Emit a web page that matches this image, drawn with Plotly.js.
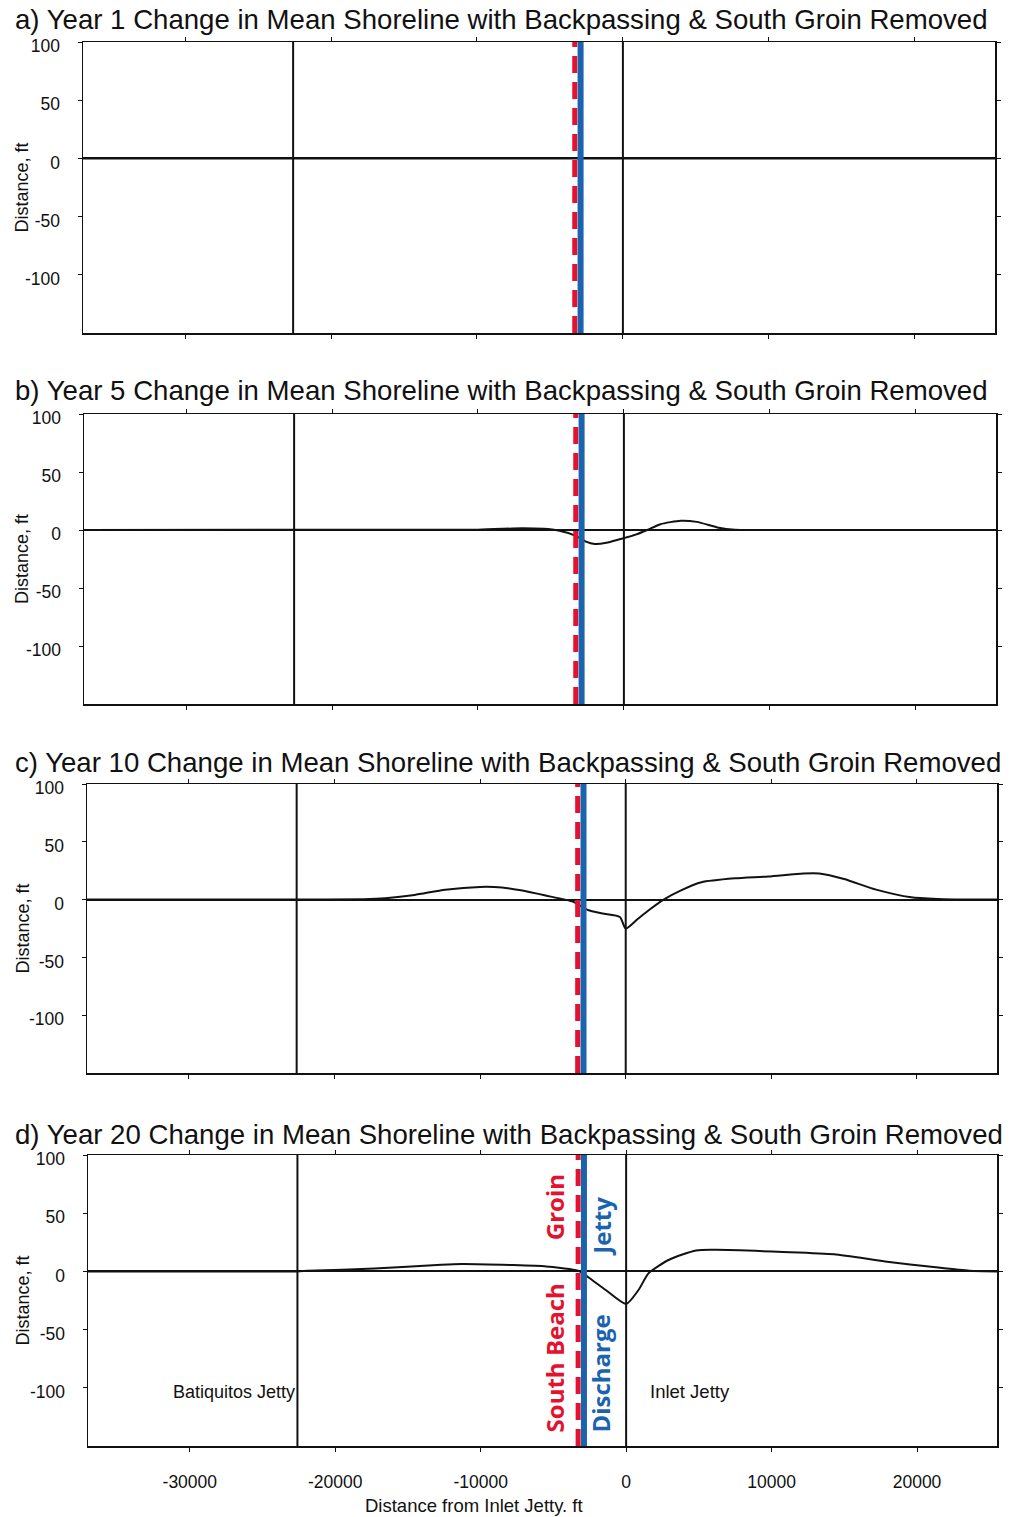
<!DOCTYPE html>
<html>
<head>
<meta charset="utf-8">
<script src="https://cdn.plot.ly/plotly-3.0.1.min.js"></script>
<style>
html,body{margin:0;padding:0;background:#fff;}
#chart{width:1011px;height:1517px;}
</style>
</head>
<body>
<div id="chart"></div>
<script>
// ---------- DATA ----------
const panelTitles = [
  "a) Year 1 Change in Mean Shoreline with Backpassing & South Groin Removed",
  "b) Year 5 Change in Mean Shoreline with Backpassing & South Groin Removed",
  "c) Year 10 Change in Mean Shoreline with Backpassing & South Groin Removed",
  "d) Year 20 Change in Mean Shoreline with Backpassing & South Groin Removed"
];
// distance from inlet jetty, ft
const xYear1 = [-37000, -20000, -10000, 0, 10000, 25500];
const yYear1 = [0, 0, 0, 0, 0, 0];

const xYear5 = [-37000, -10000, -7000, -5500, -4500, -3300, -2600, -2000, -1200, -300, 0, 800, 1600, 2500, 3900, 5000, 6500, 7600, 9000, 25500];
const yYear5 = [0, 0.3, 1.5, 1, -0.5, -5, -10, -12, -11, -8, -7, -4, 0, 5, 8, 7, 2, 0.3, 0, 0];

const xYear10 = [-37000, -22600, -18000, -16500, -14500, -12400, -10000, -8500, -7200, -5500, -3600, -2600, -1600, -400, 0, 800, 1600, 2600, 3800, 5200, 7500, 9800, 12200, 13300, 15000, 17200, 19600, 21500, 23000, 25500];
const yYear10 = [0, 0, 0.3, 1.2, 4, 8.6, 11, 10.5, 8, 3.5, -2, -9, -12, -15, -25, -17, -9, 0, 8, 15, 18.4, 20, 22.6, 22.6, 17.8, 8.6, 2, 0.5, 0, 0];

const xYear20 = [-37000, -22600, -21900, -17300, -12700, -11300, -7800, -5500, -3900, -3200, -2600, -1400, 0, 850, 1550, 2950, 4800, 6200, 10800, 14300, 17800, 21300, 23600, 25500];
const yYear20 = [0, 0, 0.5, 2.5, 5.7, 6.3, 5.4, 4.3, 2, 0, -5, -16, -28, -16, -1.5, 10, 18, 18.5, 16.7, 14.7, 8.6, 3.5, 0.6, 0];

const batiquitosJettyX = -22600;
const inletJettyX = 0;
const southBeachGroinX = -3300;
const dischargeJettyX = -2900;

const xTickVals = [-30000, -20000, -10000, 0, 10000, 20000];
const xTickText = ["-30000", "-20000", "-10000", "0", "10000", "20000"];
const yTickVals = [100, 50, 0, -50, -100];
const yTickText = ["100", "50", "0", "-50", "-100"];
const xRange = [-37000, 25500];
const yRange = [-150, 100];

// ---------- LAYOUT (pixel boxes) ----------
const W = 1011, H = 1517;
const boxes = [
  {l: 83, r: 995, t: 42, b: 333},
  {l: 84, r: 996, t: 414, b: 704},
  {l: 87, r: 997, t: 784, b: 1073},
  {l: 88, r: 997, t: 1155, b: 1446}
];
const titleY = [19, 390, 762, 1134];
const xs = [xYear1, xYear5, xYear10, xYear20];
const ys = [yYear1, yYear5, yYear10, yYear20];

const FONT = "Liberation Sans, Arial, sans-serif";
const traces = [];
const layout = {
  width: W, height: H,
  margin: {l: 0, r: 0, t: 0, b: 0},
  paper_bgcolor: "#fff", plot_bgcolor: "#fff",
  showlegend: false,
  font: {family: FONT, color: "#111", size: 16},
  shapes: [], annotations: []
};

function px(x) { return x / W; }
function py(y) { return 1 - y / H; }

boxes.forEach((bx, i) => {
  const n = i === 0 ? "" : String(i + 1);
  const xa = "x" + n, ya = "y" + n;
  traces.push({
    x: xs[i], y: ys[i], xaxis: xa, yaxis: ya,
    type: "scatter", mode: "lines",
    line: {color: "#111", width: 2, shape: "spline", smoothing: 0.6},
    hoverinfo: "skip"
  });
  layout["xaxis" + n] = {
    domain: [px(bx.l), px(bx.r)], anchor: ya, range: xRange,
    showgrid: false, zeroline: false,
    showline: true, linecolor: "#111", linewidth: 1.5, mirror: "ticks",
    ticks: "outside", ticklen: 4, tickcolor: "#111", tickwidth: 1,
    tickvals: xTickVals, ticktext: xTickText,
    showticklabels: i === 3, ticklabelstandoff: 15,
    tickfont: {family: FONT, size: 17.5, color: "#111"}
  };
  layout["yaxis" + n] = {
    domain: [py(bx.b), py(bx.t)], anchor: xa, range: yRange,
    showgrid: false, zeroline: true, zerolinecolor: "#111", zerolinewidth: 2,
    showline: true, linecolor: "#111", linewidth: 1.5, mirror: "ticks",
    ticks: "outside", ticklen: 4, tickcolor: "#111", tickwidth: 1,
    tickvals: yTickVals, ticktext: yTickText, ticklabelstandoff: 14,
    ticklabelshift: 4,
    tickfont: {family: FONT, size: 17.5, color: "#111"}
  };
  // jetty vertical lines
  [batiquitosJettyX, inletJettyX].forEach(xv => {
    layout.shapes.push({type: "line", xref: xa, yref: ya + " domain",
      x0: xv, x1: xv, y0: 0, y1: 1, line: {color: "#111", width: 2}});
  });
  layout.shapes.push({type: "line", xref: xa, yref: ya + " domain",
    x0: southBeachGroinX, x1: southBeachGroinX, y0: 0, y1: 1,
    line: {color: "#e4122e", width: 5, dash: "17px,9px"}});
  layout.shapes.push({type: "line", xref: xa, yref: ya + " domain",
    x0: dischargeJettyX, x1: dischargeJettyX, y0: 0, y1: 1,
    line: {color: "#1b63ad", width: 6}});
  // panel title
  layout.annotations.push({
    xref: "paper", yref: "paper", x: px(13), y: py(titleY[i]),
    xanchor: "left", yanchor: "middle", showarrow: false,
    text: panelTitles[i], font: {family: FONT, size: 27.6, color: "#111"}
  });
  // y axis title
  layout.annotations.push({
    xref: "paper", yref: "paper", x: px(22), y: py((bx.t + bx.b) / 2),
    xanchor: "center", yanchor: "middle", showarrow: false, textangle: -90,
    text: "Distance, ft", font: {family: FONT, size: 18, color: "#111"}
  });
});

// x-axis title
layout.annotations.push({
  xref: "paper", yref: "paper", x: px(474), y: py(1505),
  xanchor: "center", yanchor: "middle", showarrow: false,
  text: "Distance from Inlet Jetty. ft", font: {family: FONT, size: 18.5, color: "#111"}
});
// panel d labels
layout.annotations.push({
  xref: "x4", yref: "y4", x: batiquitosJettyX, y: -104,
  xanchor: "right", yanchor: "middle", showarrow: false,
  text: "Batiquitos Jetty", font: {family: FONT, size: 18, color: "#111"}
});
layout.annotations.push({
  xref: "x4", yref: "y4", x: 1500, y: -103,
  xanchor: "left", yanchor: "middle", showarrow: false,
  text: "Inlet Jetty", font: {family: FONT, size: 18.5, color: "#111"}
});
const BOLD = "Open Sans, Noto Sans, sans-serif";
layout.annotations.push({
  xref: "x4", yref: "y4", x: -4900, y: 55, textangle: -90,
  xanchor: "center", yanchor: "middle", showarrow: false,
  text: "<b>Groin</b>", font: {family: BOLD, size: 24, color: "#e4122e"}
});
layout.annotations.push({
  xref: "x4", yref: "y4", x: -4900, y: -74, textangle: -90,
  xanchor: "center", yanchor: "middle", showarrow: false,
  text: "<b>South Beach</b>", font: {family: BOLD, size: 24, color: "#e4122e"}
});
layout.annotations.push({
  xref: "x4", yref: "y4", x: -1750, y: 39, textangle: -90,
  xanchor: "center", yanchor: "middle", showarrow: false,
  text: "<b>Jetty</b>", font: {family: BOLD, size: 24, color: "#1b63ad"}
});
layout.annotations.push({
  xref: "x4", yref: "y4", x: -1750, y: -88, textangle: -90,
  xanchor: "center", yanchor: "middle", showarrow: false,
  text: "<b>Discharge</b>", font: {family: BOLD, size: 24, color: "#1b63ad"}
});

Plotly.newPlot("chart", traces, layout, {staticPlot: true, displayModeBar: false});
</script>
</body>
</html>
